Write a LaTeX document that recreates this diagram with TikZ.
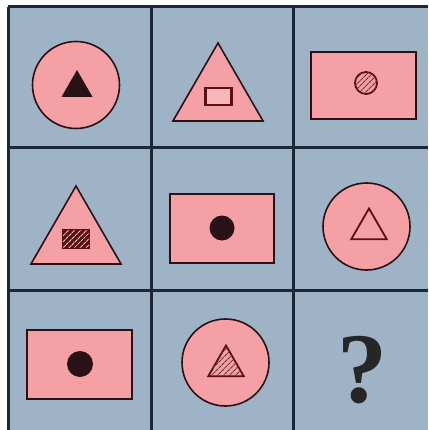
\documentclass[tikz,border=0pt]{standalone}
\usepackage{fontspec}
\setmainfont{Liberation Serif}
\usepackage{xcolor}
\usetikzlibrary{shapes.geometric,patterns.meta}

\definecolor{cellblue}{RGB}{158,179,197}
\definecolor{gridline}{RGB}{28,40,56}
\definecolor{rosepink}{RGB}{244,160,164}
\definecolor{edge}{RGB}{40,18,22}
\definecolor{darkred}{RGB}{88,16,18}

\begin{document}
\begin{tikzpicture}[
    x=1pt, y=-1pt,
    grid/.style={draw=gridline, line width=3pt},
    bigcircle/.style={
        circle,
        draw=edge,
        fill=rosepink,
        line width=1.6pt,
        minimum size=87pt,
        inner sep=0pt
    },
    bigtri/.style={
        regular polygon,
        regular polygon sides=3,
        draw=edge,
        fill=rosepink,
        line width=1.6pt,
        minimum size=104pt,
        inner sep=0pt
    },
    bigrect/.style={
        rectangle,
        draw=edge,
        fill=rosepink,
        line width=1.6pt,
        minimum width=105pt,
        minimum height=68pt,
        inner sep=0pt
    },
    smalltri/.style={
        regular polygon,
        regular polygon sides=3,
        draw=darkred,
        line width=1.8pt,
        minimum size=41pt,
        inner sep=0pt
    },
    smallrect/.style={
        rectangle,
        draw=darkred,
        line width=2.2pt,
        minimum width=26pt,
        minimum height=17pt,
        inner sep=0pt
    },
    dot/.style={circle, fill=edge, minimum size=25pt, inner sep=0pt},
    hatch/.style={postaction={
        pattern={Lines[angle=45, distance=4pt, line width=1.1pt]},
        pattern color=#1}}
]

\useasboundingbox (0,0) rectangle (428,430);
\fill[white] (0,0) rectangle (428,430);
\fill[cellblue] (8,7) rectangle (428,430);

% grid lines
\foreach \gx in {8,151,293}
    \draw[grid] (\gx,7) -- (\gx,430);
\foreach \gy in {7,148,290}
    \draw[grid] (8,\gy) -- (428,\gy);

% row 1
\node[bigcircle] (circA) at (76,85) {};
\node[regular polygon, regular polygon sides=3, fill=edge, minimum size=36pt, inner sep=0pt] (triA) at (77,88) {};

\node[bigtri] (triB) at (218,95) {};
\node[smallrect, fill=rosepink!75] (rectB) at (218.5,96.5) {};

\node[bigrect, minimum height=67pt] (rectC) at (363.5,85.5) {};
\node[circle, draw=darkred, fill=rosepink, line width=1.8pt, minimum size=22pt, inner sep=0pt, hatch=darkred!85] (ringC) at (366,83) {};

% row 2
\node[bigtri] (triD) at (76,238) {};
\node[smallrect, fill=darkred, hatch=rosepink!70!white] (rectD) at (76,239) {};

\node[bigrect, minimum width=104pt, minimum height=69pt] (rectE) at (222,228.5) {};
\node[dot] (dotE) at (222,228) {};

\node[bigcircle] (circF) at (366.5,226.5) {};
\node[smalltri] (triF) at (369,229) {};

% row 3
\node[bigrect, minimum height=69pt] (rectG) at (79.5,364.5) {};
\node[dot, minimum size=26pt] (dotG) at (80,364) {};

\node[bigcircle] (circH) at (225.5,362.5) {};
\node[smalltri, fill=rosepink, hatch=darkred!85] (triH) at (226,366) {};

\node[font=\fontsize{100}{100}\selectfont\bfseries, text=black!85] (ask) at (362,370) {?};

\end{tikzpicture}
\end{document}
